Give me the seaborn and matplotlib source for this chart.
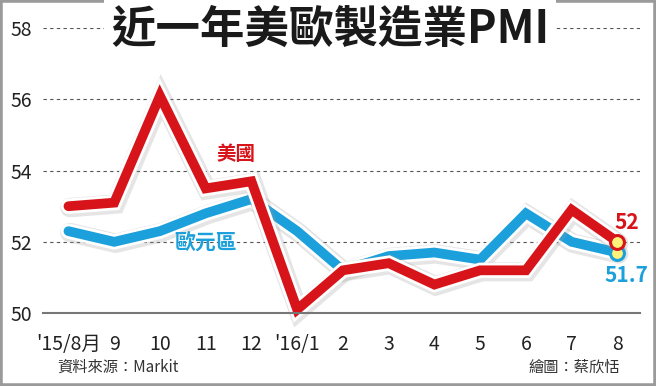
import pandas as pd
import numpy as np
import matplotlib.pyplot as plt
import matplotlib.patheffects as pe
from matplotlib.patches import Rectangle
import seaborn as sns

# -----------------------------
# data
# -----------------------------
months = ["'15/8月", "9", "10", "11", "12", "'16/1", "2", "3", "4", "5", "6", "7", "8"]
us_pmi = [53.0, 53.1, 56.1, 53.5, 53.7, 50.1, 51.2, 51.4, 50.8, 51.2, 51.2, 52.9, 52.0]
ez_pmi = [52.3, 52.0, 52.3, 52.8, 53.2, 52.3, 51.2, 51.6, 51.7, 51.5, 52.8, 52.0, 51.7]
series_names = ["美國", "歐元區"]

RED = "#d7141a"
BLUE = "#1ba0dc"

df = pd.DataFrame({
    "idx": list(range(len(months))) * 2,
    "pmi": us_pmi + ez_pmi,
    "series": [series_names[0]] * len(months) + [series_names[1]] * len(months),
})

sns.set_style("white")
plt.rcParams["font.family"] = ["Noto Sans CJK TC", "DejaVu Sans"]

fig = plt.figure(figsize=(6.56, 3.86), dpi=100)
ax = fig.add_axes([0.066, 0.189, 0.91, 0.738])

# draw blue first so red sits on top
sns.lineplot(data=df, x="idx", y="pmi", hue="series",
             hue_order=[series_names[1], series_names[0]],
             palette={series_names[0]: RED, series_names[1]: BLUE},
             linewidth=7, legend=False, ax=ax, sort=False)

for ln in ax.lines:
    ln.set_solid_joinstyle("miter")
    ln.set_clip_on(False)
    ln.set_path_effects([
        pe.SimpleLineShadow(offset=(1, -1), shadow_color="#999999", alpha=0.25, linewidth=14),
        pe.Stroke(linewidth=11, foreground="white"),
        pe.Normal(),
    ])

# end markers
ax.scatter([len(months) - 1], [ez_pmi[-1]], s=100, color="#fff27a", edgecolor=BLUE,
           linewidth=2.2, zorder=5, clip_on=False)
ax.scatter([len(months) - 1], [us_pmi[-1]], s=100, color="#fff27a", edgecolor=RED,
           linewidth=2.2, zorder=6, clip_on=False)

ax.set_xlim(-0.55, 12.5)
ax.set_ylim(50, 58)
ax.set_yticks([50, 52, 54, 56, 58])
ax.set_xticks(range(len(months)))
ax.set_xticklabels(months)
ax.set_xlabel("")
ax.set_ylabel("")

ax.grid(axis="y", linestyle=(0, (3, 3)), color="#555555", linewidth=0.8)
for s in ["top", "right", "left"]:
    ax.spines[s].set_visible(False)
ax.spines["bottom"].set_color("#777777")
ax.spines["bottom"].set_linewidth(1.5)
ax.tick_params(axis="x", direction="out", length=8, width=1.5, color="#777777",
               labelsize=14, pad=7, labelcolor="#222222")
ax.tick_params(axis="y", length=0, labelsize=14, pad=8, labelcolor="#222222")

# series labels and end values
ax.text(3.65, 54.45, series_names[0], color=RED, fontsize=14, fontweight="bold",
        ha="center", va="center")
ax.text(3.0, 51.95, series_names[1], color=BLUE, fontsize=15, fontweight="bold",
        ha="center", va="center")
ax.text(12.2, 52.55, "52", color=RED, fontsize=15, fontweight="bold",
        ha="center", va="center")
ax.text(12.2, 51.05, "51.7", color=BLUE, fontsize=15, fontweight="bold",
        ha="center", va="center")

# title
fig.text(0.503, 0.922, "近一年美歐製造業PMI", fontsize=32, fontweight="black",
         color="#1a1a1a", ha="center", va="center",
         bbox=dict(facecolor="white", edgecolor="none", pad=5))

# footnotes
fig.text(0.088, 0.048, "資料來源：Markit", fontsize=11, color="#333333", ha="left", va="center")
fig.text(0.945, 0.048, "繪圖：蔡欣恬", fontsize=11, color="#333333", ha="right", va="center")

# outer frame
fig.patches.append(Rectangle((0, 0), 1, 1, transform=fig.transFigure, fill=False,
                             edgecolor="#9a9a9a", linewidth=4))

fig.savefig("out.png", dpi=100)
